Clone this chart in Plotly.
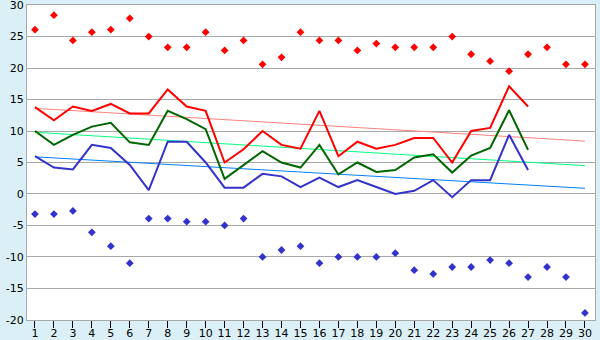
import plotly.graph_objects as go

days = list(range(1, 31))
line_days = list(range(1, 28))

# daily extremes
max_pts = [26.1, 28.4, 24.4, 25.7, 26.1, 27.9, 25.0, 23.3, 23.3, 25.7,
           22.8, 24.4, 20.6, 21.7, 25.7, 24.4, 24.4, 22.8, 23.9, 23.3,
           23.3, 23.3, 25.0, 22.2, 21.1, 19.5, 22.2, 23.3, 20.6, 20.6]
min_pts = [-3.2, -3.2, -2.7, -6.1, -8.3, -11.0, -3.9, -3.9, -4.4, -4.4,
           -5.0, -3.9, -10.0, -8.9, -8.3, -11.0, -10.0, -10.0, -10.0, -9.4,
           -12.1, -12.7, -11.6, -11.6, -10.5, -11.0, -13.2, -11.6, -13.2, -18.9]

# daily series
high = [13.8, 11.7, 13.9, 13.2, 14.3, 12.8, 12.8, 16.6, 13.9, 13.2,
        5.0, 7.1, 10.0, 7.8, 7.2, 13.2, 6.0, 8.3, 7.2, 7.8,
        8.9, 8.9, 5.0, 10.0, 10.5, 17.1, 13.9]
mean = [10.0, 7.8, 9.4, 10.7, 11.3, 8.2, 7.8, 13.2, 11.9, 10.3,
        2.4, 4.6, 6.8, 5.0, 4.2, 7.8, 3.1, 5.0, 3.5, 3.8,
        5.8, 6.3, 3.4, 6.1, 7.3, 13.3, 7.0]
low = [6.0, 4.2, 3.9, 7.8, 7.3, 4.6, 0.6, 8.3, 8.3, 5.0,
       1.0, 1.0, 3.2, 2.8, 1.1, 2.6, 1.1, 2.2, 1.1, 0.0,
       0.5, 2.2, -0.5, 2.2, 2.2, 9.4, 3.8]

# trend lines (start and end values over the month)
trend_days = [1, 30]
high_trend = [13.6, 8.4]
mean_trend = [9.8, 4.5]
low_trend = [5.9, 0.9]

ytick_vals = [30, 25, 20, 15, 10, 5, 0, -5, -10, -15, -20]
ytick_text = [str(v) if v >= 0 else "-" + str(-v) for v in ytick_vals]

fig = go.Figure()

fig.add_trace(go.Scatter(x=trend_days, y=high_trend, mode="lines",
                         line=dict(color="#FF8080", width=1)))
fig.add_trace(go.Scatter(x=trend_days, y=mean_trend, mode="lines",
                         line=dict(color="#00FF80", width=1)))
fig.add_trace(go.Scatter(x=trend_days, y=low_trend, mode="lines",
                         line=dict(color="#0080FF", width=1)))

fig.add_trace(go.Scatter(x=line_days, y=high, mode="lines",
                         line=dict(color="#FF0000", width=2)))
fig.add_trace(go.Scatter(x=line_days, y=mean, mode="lines",
                         line=dict(color="#006600", width=2)))
fig.add_trace(go.Scatter(x=line_days, y=low, mode="lines",
                         line=dict(color="#3333CC", width=2)))

fig.add_trace(go.Scatter(x=days, y=max_pts, mode="markers",
                         marker=dict(symbol="diamond", size=6, color="#FF0000")))
fig.add_trace(go.Scatter(x=days, y=min_pts, mode="markers",
                         marker=dict(symbol="diamond", size=6, color="#3333CC")))

fig.update_layout(
    width=600, height=340,
    margin=dict(l=27, r=5, t=5, b=20),
    paper_bgcolor="#DAF0F6",
    plot_bgcolor="#FFFFFF",
    showlegend=False,
    font=dict(family="DejaVu Sans", size=11, color="#000000"),
)
fig.update_xaxes(
    range=[0.58, 30.53], tickvals=days, showgrid=False, zeroline=False,
    ticks="outside", ticklen=7, tickcolor="#000000",
    showline=True, linecolor="#A8A8A8", mirror=True,
    ticklabeloverflow="allow", automargin=False, ticklabelstandoff=-4,
)
fig.update_yaxes(
    range=[-20.02, 30.02], tickvals=ytick_vals, ticktext=ytick_text,
    showgrid=True, gridcolor="#A8A8A8", gridwidth=1, zeroline=False,
    showline=True, linecolor="#A8A8A8", mirror=True, ticks="",
    ticklabeloverflow="allow", automargin=False,
)

fig.write_html("out.html")
